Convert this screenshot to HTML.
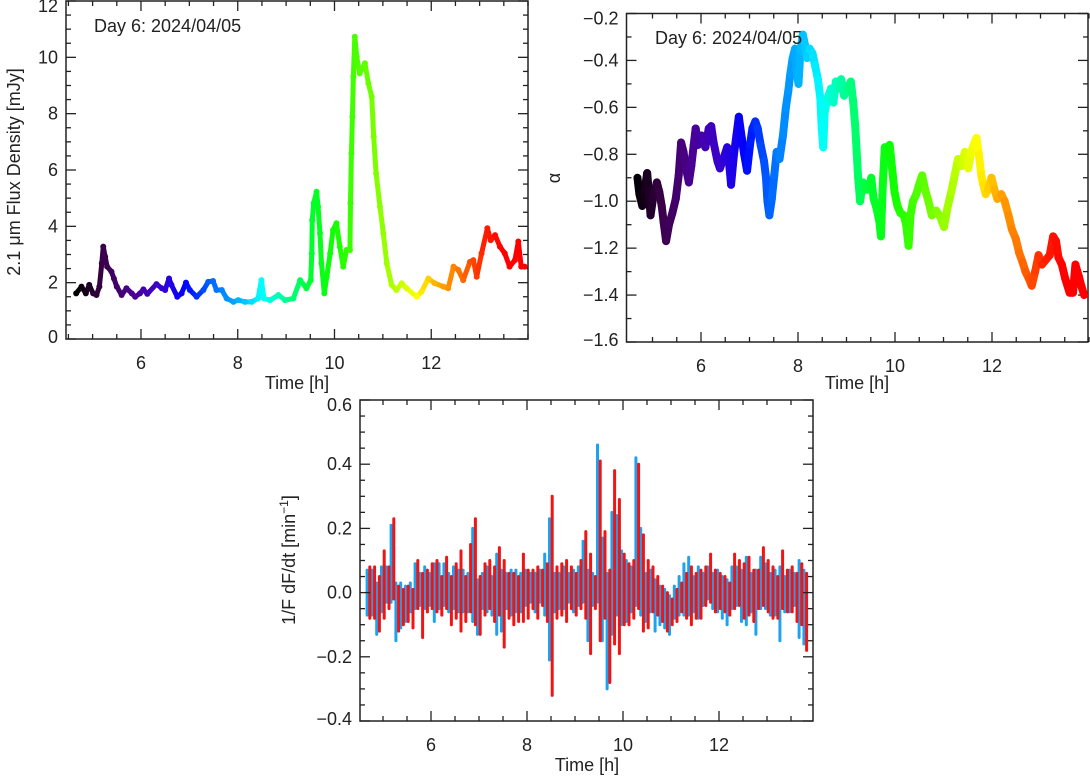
<!DOCTYPE html>
<html><head><meta charset="utf-8"><style>
html,body{margin:0;padding:0;background:#fff;}
svg{display:block;font-family:"Liberation Sans","DejaVu Sans",sans-serif;}
</style></head><body>
<svg id="fig" width="1090" height="778" viewBox="0 0 1090 778" xmlns="http://www.w3.org/2000/svg">
<g id="p1"></g>
<g id="p2"></g>
<g id="p3"></g>
</svg>
<script>
// ---- Panel 1: flux density ----
const fluxTime=[4.66,4.77,4.86,4.93,5.01,5.08,5.14,5.19,5.22,5.26,5.30,5.39,5.44,5.50,5.60,5.70,5.81,5.88,5.98,6.05,6.13,6.32,6.43,6.50,6.58,6.63,6.75,6.84,6.93,7.01,7.15,7.29,7.39,7.49,7.56,7.67,7.77,7.91,8.01,8.15,8.29,8.42,8.49,8.54,8.67,8.84,8.98,9.15,9.29,9.42,9.51,9.53,9.54,9.57,9.63,9.66,9.70,9.73,9.79,9.84,9.91,9.97,10.04,10.11,10.18,10.25,10.32,10.33,10.35,10.37,10.39,10.42,10.46,10.52,10.63,10.70,10.77,10.81,10.86,10.94,11.01,11.08,11.18,11.28,11.39,11.49,11.70,11.80,11.94,12.07,12.25,12.35,12.46,12.56,12.66,12.80,12.87,12.94,13.04,13.16,13.23,13.32,13.42,13.52,13.62,13.73,13.80,13.86,13.93];
const fluxValue=[1.62,1.86,1.62,1.92,1.62,1.56,1.86,2.69,3.28,2.92,2.57,2.39,2.15,1.86,1.56,1.80,1.62,1.50,1.62,1.76,1.60,1.95,1.80,1.74,2.15,1.92,1.50,1.62,2.00,1.74,1.50,1.74,2.03,2.06,1.74,1.74,1.44,1.32,1.38,1.32,1.32,1.44,2.09,1.44,1.38,1.56,1.38,1.44,2.09,1.80,2.09,3.04,4.22,4.82,5.23,4.70,3.75,2.69,1.62,2.21,3.04,3.87,4.11,3.28,2.57,3.16,3.16,4.82,6.59,7.89,9.31,10.73,10.02,9.43,9.79,9.08,8.60,7.18,5.88,4.70,3.75,2.69,1.92,1.74,1.98,1.80,1.50,1.68,2.15,1.98,1.86,1.80,2.57,2.45,2.09,2.74,2.80,2.21,3.04,3.93,3.51,3.69,3.28,3.04,2.57,2.80,3.46,2.57,2.57];
const p1XTicks=[6,8,10,12];
const p1YTicks=[0,2,4,6,8,10,12];

// ---- Panel 2: spectral index alpha ----
const alphaTime=[4.69,4.73,4.79,4.84,4.89,4.92,4.96,5.01,5.09,5.14,5.19,5.23,5.28,5.34,5.41,5.48,5.54,5.59,5.64,5.69,5.75,5.80,5.85,5.89,5.94,6.01,6.09,6.16,6.21,6.26,6.34,6.39,6.46,6.54,6.59,6.62,6.68,6.73,6.78,6.84,6.89,6.95,7.01,7.06,7.12,7.17,7.23,7.30,7.34,7.37,7.41,7.46,7.51,7.56,7.62,7.69,7.75,7.80,7.84,7.89,7.94,7.98,8.01,8.05,8.10,8.14,8.19,8.24,8.30,8.35,8.41,8.46,8.49,8.52,8.55,8.61,8.68,8.73,8.78,8.84,8.89,8.95,9.01,9.09,9.14,9.18,9.21,9.24,9.28,9.34,9.39,9.46,9.51,9.56,9.62,9.68,9.71,9.75,9.79,9.84,9.89,9.94,9.99,10.05,10.11,10.18,10.23,10.28,10.32,10.37,10.44,10.51,10.56,10.62,10.69,10.76,10.85,10.94,11.01,11.08,11.16,11.23,11.30,11.37,11.44,11.51,11.56,11.62,11.68,11.73,11.78,11.82,11.87,11.92,11.99,12.05,12.11,12.19,12.26,12.34,12.41,12.49,12.56,12.63,12.69,12.76,12.82,12.89,12.96,13.03,13.11,13.19,13.26,13.32,13.37,13.44,13.51,13.60,13.67,13.72,13.79,13.84,13.90];
const alphaValue=[-0.90,-0.97,-1.02,-0.95,-0.88,-0.95,-1.06,-0.99,-0.92,-0.96,-1.02,-1.09,-1.17,-1.10,-1.05,-0.99,-0.89,-0.75,-0.79,-0.86,-0.92,-0.85,-0.76,-0.69,-0.76,-0.72,-0.77,-0.69,-0.68,-0.75,-0.83,-0.86,-0.82,-0.77,-0.86,-0.93,-0.80,-0.72,-0.64,-0.73,-0.80,-0.87,-0.76,-0.69,-0.66,-0.69,-0.76,-0.83,-0.90,-1.00,-1.06,-0.99,-0.89,-0.79,-0.82,-0.72,-0.60,-0.53,-0.46,-0.39,-0.35,-0.45,-0.50,-0.36,-0.29,-0.33,-0.39,-0.35,-0.37,-0.42,-0.48,-0.56,-0.69,-0.77,-0.62,-0.56,-0.52,-0.58,-0.49,-0.52,-0.48,-0.55,-0.52,-0.49,-0.58,-0.68,-0.79,-0.90,-1.00,-0.92,-0.95,-0.95,-0.90,-0.99,-1.03,-1.09,-1.15,-0.92,-0.77,-0.81,-0.76,-0.86,-0.96,-1.02,-1.05,-1.06,-1.10,-1.19,-1.06,-1.00,-0.97,-0.92,-0.89,-0.95,-1.00,-1.06,-1.04,-1.07,-1.11,-1.03,-0.96,-0.89,-0.82,-0.85,-0.79,-0.86,-0.80,-0.76,-0.73,-0.80,-0.89,-0.93,-0.97,-0.95,-0.90,-0.95,-0.99,-0.97,-1.00,-1.06,-1.12,-1.16,-1.22,-1.26,-1.30,-1.33,-1.36,-1.30,-1.23,-1.27,-1.25,-1.23,-1.15,-1.17,-1.24,-1.27,-1.33,-1.39,-1.39,-1.27,-1.32,-1.36,-1.40];
const p2XTicks=[6,8,10,12];
const p2YTicks=[-1.6,-1.4,-1.2,-1.0,-0.8,-0.6,-0.4,-0.2];

// ---- Panel 3: 1/F dF/dt (binned extents) ----
const derivTime=[4.7,4.8,4.9,5.0,5.1,5.2,5.3,5.4,5.5,5.6,5.7,5.8,5.9,6.0,6.1,6.2,6.3,6.4,6.5,6.6,6.7,6.8,6.9,7.0,7.1,7.2,7.3,7.4,7.5,7.6,7.7,7.8,7.9,8.0,8.1,8.2,8.3,8.4,8.5,8.6,8.7,8.8,8.9,9.0,9.1,9.2,9.3,9.4,9.5,9.6,9.7,9.8,9.9,10.0,10.1,10.2,10.3,10.4,10.5,10.6,10.7,10.8,10.9,11.0,11.1,11.2,11.3,11.4,11.5,11.6,11.7,11.8,11.9,12.0,12.1,12.2,12.3,12.4,12.5,12.6,12.7,12.8,12.9,13.0,13.1,13.2,13.3,13.4,13.5,13.6,13.7,13.8];
const redHigh=[0.08,0.08,0.05,0.13,0.08,0.23,0.02,0.01,0.02,0.01,0.10,0.06,0.07,0.09,0.10,0.05,0.11,0.05,0.09,0.13,0.05,0.15,0.23,0.05,0.09,0.10,0.08,0.14,0.10,0.06,0.06,0.05,0.12,0.07,0.07,0.08,0.07,0.09,0.30,0.08,0.09,0.10,0.08,0.06,0.10,0.19,0.12,0.05,0.41,0.19,0.07,0.38,0.29,0.12,0.09,0.10,0.40,0.18,0.10,0.08,0.05,0.02,0.00,-0.02,0.01,0.03,0.06,0.08,0.06,0.07,0.08,0.12,0.07,0.06,0.05,0.03,0.12,0.10,0.09,0.11,0.07,0.07,0.14,0.10,0.08,0.05,0.13,0.07,0.08,0.06,0.09,0.06];
const redLow=[-0.08,-0.08,-0.12,-0.08,-0.05,-0.02,-0.12,-0.10,-0.09,-0.11,-0.05,-0.14,-0.06,-0.05,-0.06,-0.07,-0.05,-0.10,-0.08,-0.12,-0.09,-0.06,-0.10,-0.13,-0.07,-0.05,-0.09,-0.07,-0.17,-0.08,-0.10,-0.09,-0.09,-0.08,-0.05,-0.08,-0.04,-0.09,-0.32,-0.08,-0.07,-0.09,-0.05,-0.07,-0.05,-0.08,-0.19,-0.05,-0.15,-0.08,-0.28,-0.16,-0.19,-0.10,-0.10,-0.08,-0.05,-0.12,-0.11,-0.06,-0.07,-0.09,-0.12,-0.10,-0.09,-0.06,-0.08,-0.10,-0.08,-0.08,-0.04,-0.03,-0.06,-0.05,-0.06,-0.07,-0.05,-0.04,-0.08,-0.07,-0.09,-0.05,-0.04,-0.06,-0.08,-0.08,-0.05,-0.06,-0.06,-0.09,-0.10,-0.18];
const blueHigh=[0.07,0.07,0.03,0.08,0.08,0.21,0.03,0.03,0.02,0.03,0.09,0.06,0.08,0.06,0.09,0.09,0.09,0.06,0.08,0.07,0.07,0.06,0.20,0.04,0.06,0.08,0.05,0.12,0.07,0.06,0.07,0.07,0.06,0.07,0.06,0.06,0.07,0.12,0.23,0.06,0.06,0.08,0.06,0.07,0.08,0.16,0.07,0.06,0.46,0.17,0.06,0.25,0.24,0.13,0.10,0.08,0.42,0.20,0.06,0.07,0.04,0.02,0.01,-0.01,0.02,0.05,0.09,0.11,0.05,0.08,0.06,0.08,0.06,0.07,0.05,0.04,0.08,0.08,0.07,0.11,0.06,0.07,0.11,0.09,0.06,0.07,0.08,0.05,0.07,0.06,0.10,0.07];
const blueLow=[-0.07,-0.07,-0.13,-0.06,-0.03,-0.03,-0.15,-0.11,-0.09,-0.06,-0.05,-0.04,-0.05,-0.04,-0.09,-0.05,-0.04,-0.06,-0.05,-0.06,-0.06,-0.06,-0.09,-0.13,-0.05,-0.06,-0.07,-0.13,-0.12,-0.05,-0.07,-0.06,-0.06,-0.04,-0.03,-0.06,-0.03,-0.07,-0.21,-0.06,-0.05,-0.05,-0.03,-0.06,-0.04,-0.03,-0.15,-0.04,-0.03,-0.15,-0.30,-0.13,-0.07,-0.10,-0.09,-0.06,-0.04,-0.07,-0.09,-0.06,-0.12,-0.10,-0.11,-0.13,-0.08,-0.07,-0.07,-0.07,-0.06,-0.08,-0.04,-0.02,-0.05,-0.06,-0.08,-0.10,-0.05,-0.04,-0.09,-0.10,-0.06,-0.13,-0.05,-0.05,-0.07,-0.07,-0.15,-0.06,-0.06,-0.04,-0.14,-0.16];
const p3XTicks=[6,8,10,12];
const p3YTicks=[-0.4,-0.2,0.0,0.2,0.4,0.6];

const NS='http://www.w3.org/2000/svg';
function mk(parent,tag,attrs){const e=document.createElementNS(NS,tag);for(const k in attrs)e.setAttribute(k,attrs[k]);parent.appendChild(e);return e;}
const stops=[[4.66,[0,0,0]],[5.2,[58,0,72]],[5.8,[74,0,144]],[6.4,[58,0,208]],[6.9,[0,0,255]],[7.4,[0,96,255]],[8.0,[0,176,255]],[8.5,[0,255,255]],[9.0,[0,255,144]],[9.5,[0,255,48]],[10.0,[16,255,0]],[10.5,[80,255,0]],[11.0,[144,255,0]],[11.7,[255,255,0]],[12.1,[255,176,0]],[12.6,[255,112,0]],[13.1,[255,32,0]],[13.5,[255,0,0]]];
function rainbow(t){if(t<=stops[0][0])return 'rgb(0,0,0)';for(let i=1;i<stops.length;i++){if(t<=stops[i][0]){const a=stops[i-1],b=stops[i],f=(t-a[0])/(b[0]-a[0]);const c=a[1].map((v,j)=>Math.round(v+(b[1][j]-v)*f));return `rgb(${c[0]},${c[1]},${c[2]})`;}}return 'rgb(255,0,0)';}

function axes(g,box,xs,ys,xTicks,yTicks,xMinor,yMinor,fmt,name){
  const [L,T,R,B]=box;
  const r=mk(g,'rect',{x:L,y:T,width:R-L,height:B-T,fill:'none',stroke:'#222','stroke-width':1.5});
  
  
  const [x0,x1]=xs.domain,[y0,y1]=ys.domain;
  for(let v=Math.ceil(x0/xMinor)*xMinor;v<=x1+1e-9;v+=xMinor){const px=xs(v);const maj=xTicks.some(t=>Math.abs(t-v)<1e-6);const len=maj?10:5;
    mk(g,'line',{x1:px,y1:B,x2:px,y2:B-len,stroke:'#222','stroke-width':1.3});mk(g,'line',{x1:px,y1:T,x2:px,y2:T+len,stroke:'#222','stroke-width':1.3});}
  for(let v=Math.ceil(y0/yMinor-1e-9)*yMinor;v<=y1+1e-9;v+=yMinor){const py=ys(v);const maj=yTicks.some(t=>Math.abs(t-v)<1e-6);const len=maj?10:5;
    mk(g,'line',{x1:L,y1:py,x2:L+len,y2:py,stroke:'#222','stroke-width':1.3});mk(g,'line',{x1:R,y1:py,x2:R-len,y2:py,stroke:'#222','stroke-width':1.3});}
  xTicks.forEach(v=>{const t=mk(g,'text',{x:xs(v),y:B+30,'text-anchor':'middle','font-size':18,fill:'#222'});t.textContent=v;
    
    });
  yTicks.forEach(v=>{let py=ys(v)+6;if(Math.abs(v-y0)<1e-9)py-=2;if(Math.abs(v-y1)<1e-9)py+=5;const t=mk(g,'text',{x:L-8,y:py,'text-anchor':'end','font-size':18,fill:'#222'});t.textContent=fmt(v).replace('-','\u2212');
    
    });
}
function scale(d0,d1,r0,r1){const f=v=>r0+(v-d0)/(d1-d0)*(r1-r0);f.domain=[d0,d1];return f;}

// Panel 1
(function(){
  const g=document.getElementById('p1');
  const box=[66,1,528,339];
  const xs=scale(4.45,14.0,66,528), ys=scale(0,12,339,1);
  axes(g,box,xs,ys,p1XTicks,p1YTicks,0.5,0.5,v=>String(v),'flux');
  for(let i=1;i<fluxTime.length;i++){const s=mk(g,'line',{x1:xs(fluxTime[i-1]),y1:ys(fluxValue[i-1]),x2:xs(fluxTime[i]),y2:ys(fluxValue[i]),stroke:rainbow((fluxTime[i]+fluxTime[i-1])/2),'stroke-width':5,'stroke-linecap':'round'});
    
    }
  fluxTime.forEach((t,i)=>{const c=mk(g,'circle',{cx:xs(t),cy:ys(fluxValue[i]),r:3,fill:rainbow(t)});
    
    });
  const lab=mk(g,'text',{x:94,y:32,'font-size':18,fill:'#222'});lab.textContent='Day 6: 2024/04/05';
  
  
  const xt=mk(g,'text',{x:297,y:389,'text-anchor':'middle','font-size':18,fill:'#222'});xt.textContent='Time [h]';
  
  
  const yt=mk(g,'text',{x:0,y:0,'text-anchor':'middle','font-size':18,fill:'#222',transform:'translate(20,172) rotate(-90)'});yt.textContent='2.1 \u03BCm Flux Density [mJy]';
  
  
})();

// Panel 2
(function(){
  const g=document.getElementById('p2');
  const box=[626.5,13.5,1088,342];
  const xs=scale(6,12,701,992), ys=scale(-1.6,-0.2,342,13.5);
  xs.domain=[4.51,14.0];
  axes(g,box,xs,ys,p2XTicks,p2YTicks,0.5,0.1,v=>v.toFixed(1),'alpha');
  for(let i=1;i<alphaTime.length;i++){const s=mk(g,'line',{x1:xs(alphaTime[i-1]),y1:ys(alphaValue[i-1]),x2:xs(alphaTime[i]),y2:ys(alphaValue[i]),stroke:rainbow((alphaTime[i]+alphaTime[i-1])/2),'stroke-width':8,'stroke-linecap':'round'});
    
    }
  const lab=mk(g,'text',{x:655,y:44,'font-size':18,fill:'#222'});lab.textContent='Day 6: 2024/04/05';
  
  
  const xt=mk(g,'text',{x:857,y:389,'text-anchor':'middle','font-size':18,fill:'#222'});xt.textContent='Time [h]';
  
  
  const yt=mk(g,'text',{x:0,y:0,'text-anchor':'middle','font-size':18,fill:'#222',transform:'translate(560,178) rotate(-90)'});yt.textContent='\u03B1';
  
  
})();

// Panel 3
(function(){
  const g=document.getElementById('p3');
  const box=[360,400,813,721];
  const xs=scale(6,12,431,719), ys=scale(-0.4,0.6,721,400);
  xs.domain=[4.52,13.92];
  const clip=mk(g,'clipPath',{id:'c3'});mk(clip,'rect',{x:361,y:401,width:451,height:319});
  const data=mk(g,'g',{'clip-path':'url(#c3)'});
  derivTime.forEach((t,i)=>{
    const b=mk(data,'line',{x1:xs(t)-1.5,y1:ys(blueHigh[i]),x2:xs(t)-1.5,y2:ys(blueLow[i]),stroke:'#1ea2ef','stroke-width':3,'stroke-linecap':'round'});
    
    
  });
  derivTime.forEach((t,i)=>{
    const r=mk(data,'line',{x1:xs(t)+1.2,y1:ys(redHigh[i]),x2:xs(t)+1.2,y2:ys(redLow[i]),stroke:'#f01414','stroke-width':3,'stroke-linecap':'round'});
    
    
  });
  axes(g,box,xs,ys,p3XTicks,p3YTicks,0.5,0.05,v=>v.toFixed(1),'derivative');
  const xt=mk(g,'text',{x:587,y:771,'text-anchor':'middle','font-size':18,fill:'#222'});xt.textContent='Time [h]';
  
  
  const yt=mk(g,'text',{x:0,y:0,'text-anchor':'middle','font-size':18,fill:'#222',transform:'translate(295,560) rotate(-90)'});
  
  
  yt.textContent='1/F dF/dt [min';
  const sup=mk(yt,'tspan',{'font-size':12,dy:-7});sup.textContent='\u22121';
  const cl=mk(yt,'tspan',{dy:7});cl.textContent=']';
})();
</script>
</body></html>
